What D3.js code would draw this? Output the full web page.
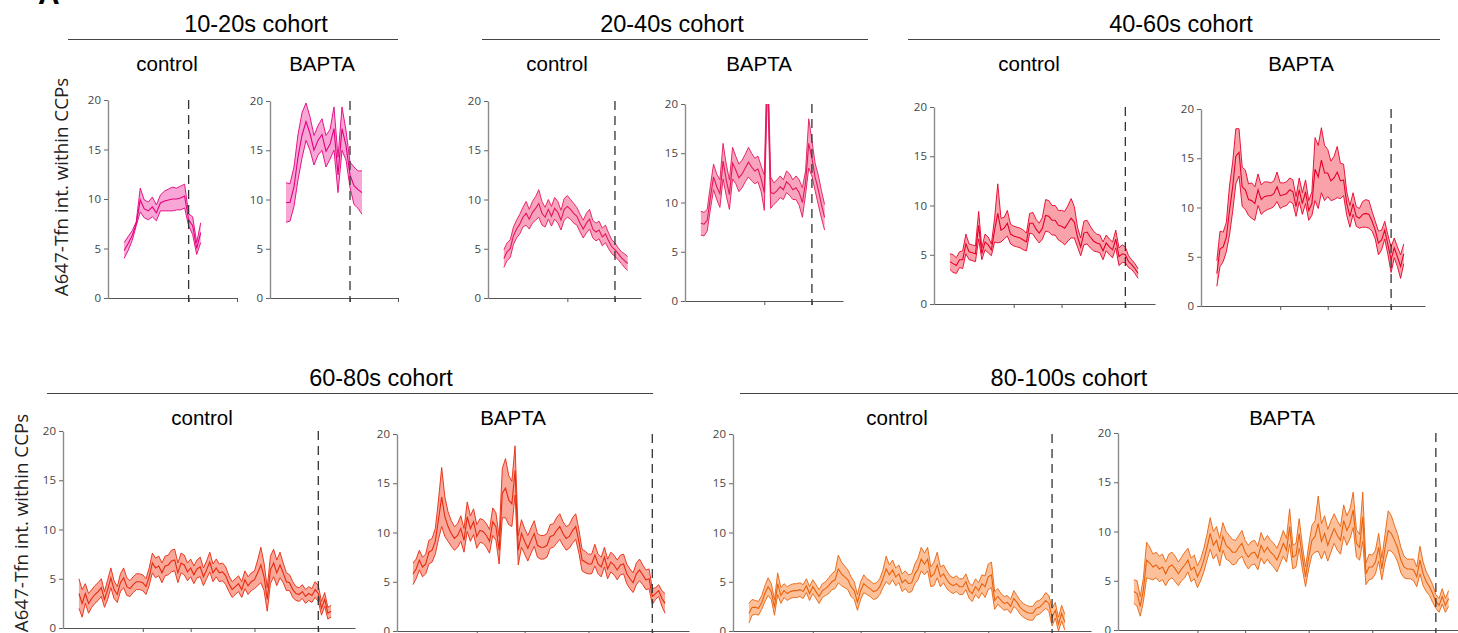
<!DOCTYPE html>
<html>
<head>
<meta charset="utf-8">
<script src="https://cdn.jsdelivr.net/npm/d3@7"></script>
<style>
  body { margin: 0; background: #fff; }
  svg { display: block; }
</style>
</head>
<body>
<div id="chart"></div>
<script>
// Cohort categories and conditions
const cohorts = ["10-20s cohort", "20-40s cohort", "40-60s cohort", "60-80s cohort", "80-100s cohort"];
const conditions = ["control", "BAPTA"];
const cohortEnds = [20, 40, 60, 80, 100];      // dashed line, s
const traceStarts = [4, 5, 5, 5, 5];           // first time point, s (1 s per frame)
const yTicks = [0, 5, 10, 15, 20];
const xTicks = [[20, 32], [25, 40], [25, 40, 60], [25, 40, 60, 80], [25, 40, 60, 80]];
const yLabel = "A647-Tfn int. within CCPs";

// mean and sem of A647-Tfn intensity
const ctrl10Mean = [4.8, 5.5, 6.3, 7.5, 9.9, 9.0, 8.8, 9.2, 8.6, 9.6, 9.8, 9.9, 10.0, 10.0, 10.1, 10.3, 7.9, 7.3, 5.0, 6.6];
const ctrl10Sem  = [0.8, 0.7, 0.5, 0.2, 1.2, 0.9, 0.9, 1.0, 0.8, 0.8, 1.0, 1.1, 1.2, 1.1, 1.2, 1.2, 0.6, 0.9, 0.6, 1.0];
const bapta10Mean = [9.7, 9.7, 11.3, 14.3, 16.5, 17.9, 16.7, 15.0, 16.0, 16.6, 14.9, 15.6, 17.2, 12.5, 17.2, 15.5, 12.5, 11.4, 11.0, 10.7];
const bapta10Sem  = [2.0, 1.9, 2.0, 2.3, 2.3, 1.9, 1.7, 1.5, 1.5, 1.6, 1.6, 1.5, 2.2, 1.8, 2.2, 1.5, 1.3, 1.9, 1.9, 2.2];

const ctrl20Mean = [4.0, 4.7, 5.0, 6.3, 7.0, 7.5, 8.2, 8.6, 8.0, 8.7, 9.1, 9.6, 8.6, 8.2, 9.0, 8.3, 9.1, 8.7, 7.9, 9.0,
  9.3, 9.0, 8.6, 8.3, 7.6, 7.0, 7.6, 8.0, 7.0, 6.7, 6.9, 6.2, 6.5, 5.8, 5.2, 4.9, 4.5, 4.1, 3.8, 3.5];
const ctrl20Sem = [0.9, 0.9, 0.9, 0.9, 0.9, 1.0, 1.0, 1.2, 1.0, 1.1, 1.2, 1.4, 1.2, 1.0, 1.0, 1.0, 1.1, 1.1, 1.0, 1.1,
  1.1, 1.0, 1.0, 0.9, 0.9, 0.9, 1.0, 1.0, 0.9, 0.9, 0.9, 0.9, 0.9, 0.8, 0.7, 0.7, 0.6, 0.6, 0.7, 0.7];
const bapta20Mean = [7.9, 7.8, 8.2, 10.5, 12.6, 11.6, 10.9, 14.2, 12.3, 10.8, 14.0, 13.3, 12.5, 12.9, 13.5, 14.1, 13.6, 13.2, 13.4, 12.4,
  11.0, 24.0, 11.0, 10.9, 11.2, 11.6, 11.3, 12.1, 11.8, 11.3, 11.5, 11.0, 10.0, 12.0, 16.0, 14.5, 12.6, 11.3, 9.8, 8.5];
const bapta20Sem = [1.2, 1.2, 1.1, 1.2, 1.3, 1.3, 1.4, 1.8, 1.6, 1.5, 1.6, 1.4, 1.4, 1.4, 1.4, 1.5, 1.4, 1.3, 1.3, 1.3,
  1.8, 2.0, 1.6, 1.1, 1.1, 1.1, 1.0, 1.1, 1.1, 1.0, 1.2, 1.3, 1.5, 1.2, 2.5, 1.8, 1.4, 1.5, 1.4, 1.3];

const ctrl40Mean = [4.3, 4.1, 3.9, 4.5, 4.5, 6.1, 5.3, 5.2, 5.1, 8.0, 5.1, 6.3, 6.0, 5.5, 7.5, 9.2, 7.5, 7.7, 8.2, 7.1,
  6.9, 6.8, 6.7, 6.5, 6.3, 8.2, 8.2, 7.6, 7.2, 7.7, 9.0, 8.9, 8.5, 8.5, 8.0, 7.9, 7.7, 8.2, 8.7, 8.3,
  6.8, 5.8, 7.2, 7.3, 6.8, 6.4, 6.2, 6.1, 5.4, 6.2, 5.8, 5.5, 6.6, 4.8, 5.1, 5.0, 4.3, 4.0, 3.6, 3.1];
const ctrl40Sem = [0.8, 0.9, 0.8, 0.8, 0.9, 1.0, 0.8, 0.8, 0.8, 1.4, 0.6, 0.8, 0.8, 0.6, 1.2, 3.0, 1.2, 1.1, 1.3, 1.0,
  1.0, 1.0, 1.0, 1.0, 0.9, 1.0, 1.1, 1.0, 1.0, 1.1, 1.6, 1.6, 1.5, 1.5, 1.5, 1.6, 1.7, 1.8, 2.0, 1.6,
  1.0, 0.9, 1.2, 1.2, 1.1, 1.0, 0.9, 0.9, 0.9, 0.8, 0.8, 0.8, 0.9, 0.9, 0.9, 0.8, 0.6, 0.5, 0.5, 0.5];
const bapta40Mean = [3.3, 5.8, 6.0, 7.0, 9.7, 12.1, 15.2, 15.6, 12.1, 11.8, 10.8, 10.7, 10.4, 11.8, 10.8, 11.1, 11.2, 11.2, 11.4, 12.1,
  11.2, 11.3, 11.4, 11.8, 11.6, 10.1, 11.8, 10.4, 11.6, 9.7, 10.4, 13.9, 13.1, 14.8, 13.5, 13.5, 12.7, 13.0, 13.6, 12.7,
  12.8, 10.4, 9.1, 10.4, 9.1, 8.9, 9.3, 9.4, 9.3, 8.6, 7.7, 6.4, 6.7, 7.7, 6.2, 4.7, 5.9, 5.0, 4.0, 5.3];
const bapta40Sem = [1.3, 1.8, 1.5, 1.5, 2.5, 2.5, 2.8, 2.4, 2.0, 2.0, 1.6, 1.8, 1.7, 1.6, 1.5, 1.5, 1.4, 1.3, 1.3, 1.5,
  1.3, 1.2, 1.2, 1.2, 1.2, 1.0, 1.2, 1.1, 1.2, 1.0, 1.2, 3.2, 3.2, 3.3, 2.8, 2.4, 2.0, 2.2, 2.6, 1.8,
  1.6, 1.2, 1.1, 1.1, 1.0, 1.0, 1.3, 1.4, 1.4, 1.0, 0.9, 1.2, 1.0, 0.9, 1.0, 1.3, 1.0, 1.0, 1.2, 1.0];

const ctrl60Mean = [3.5, 2.5, 3.5, 2.5, 3.0, 3.4, 3.7, 4.1, 2.9, 3.9, 5.1, 3.9, 3.4, 4.6, 5.1, 4.2, 4.0, 4.4, 4.7, 4.7,
  4.6, 4.2, 5.2, 6.6, 6.1, 6.3, 5.6, 6.3, 6.4, 6.8, 6.9, 5.6, 6.6, 6.4, 5.7, 6.1, 5.4, 6.0, 6.2, 5.2,
  5.9, 6.7, 5.6, 6.1, 5.6, 5.7, 5.3, 4.5, 3.9, 4.2, 4.5, 3.9, 4.9, 4.3, 4.7, 4.9, 5.6, 6.4, 5.2, 2.9,
  5.9, 6.6, 5.6, 6.4, 5.6, 4.7, 4.6, 3.9, 3.5, 3.4, 3.7, 3.2, 3.5, 3.3, 3.9, 3.5, 2.0, 2.9, 1.5, 1.7];
const ctrl60Sem = [1.5, 1.4, 1.0, 1.0, 0.9, 0.9, 0.9, 0.9, 0.8, 1.0, 1.0, 0.9, 0.8, 0.9, 1.0, 0.9, 0.8, 0.8, 0.8, 0.8,
  0.8, 0.8, 0.9, 1.0, 1.0, 1.0, 1.0, 1.0, 1.0, 1.1, 1.1, 1.0, 1.0, 1.0, 0.9, 0.9, 0.9, 0.9, 1.0, 0.9,
  0.9, 1.0, 0.9, 0.9, 0.9, 0.9, 0.9, 0.8, 0.8, 0.8, 0.8, 0.8, 0.9, 0.9, 0.9, 0.9, 1.3, 1.8, 1.4, 1.2,
  1.4, 1.4, 1.3, 1.3, 1.0, 0.9, 0.8, 0.8, 0.7, 0.7, 0.7, 0.7, 0.7, 0.7, 0.8, 0.8, 0.7, 0.7, 0.6, 0.6];
const bapta60Mean = [5.8, 6.3, 7.2, 6.5, 6.8, 8.0, 8.2, 9.1, 11.3, 13.6, 11.6, 10.6, 9.9, 9.4, 9.7, 10.4, 9.2, 11.6, 10.4, 11.1,
  9.6, 10.2, 10.1, 9.7, 9.1, 11.1, 10.6, 8.2, 14.0, 14.5, 13.3, 12.9, 16.3, 8.2, 9.9, 9.1, 8.4, 9.2, 9.9, 8.7,
  8.5, 8.5, 8.7, 9.6, 9.7, 10.2, 10.6, 9.9, 9.4, 9.6, 10.2, 10.6, 9.1, 7.2, 7.0, 6.8, 6.8, 7.7, 6.8, 6.5,
  7.5, 6.3, 7.0, 6.7, 6.2, 6.7, 6.8, 5.8, 5.3, 4.9, 5.8, 6.2, 5.7, 5.2, 5.3, 3.5, 3.8, 4.1, 3.3, 2.8];
const bapta60Sem = [1.1, 1.0, 1.0, 1.0, 1.0, 1.2, 1.2, 1.3, 2.0, 3.0, 2.0, 1.5, 1.3, 1.2, 1.2, 1.3, 1.2, 1.5, 1.3, 1.3,
  1.2, 1.2, 1.2, 1.2, 1.2, 1.4, 1.4, 1.4, 2.5, 3.0, 2.5, 2.3, 2.5, 1.5, 1.4, 1.3, 1.3, 1.3, 1.3, 1.2,
  1.2, 1.2, 1.2, 1.2, 1.2, 1.3, 1.3, 1.2, 1.2, 1.2, 1.3, 1.3, 1.2, 1.1, 1.1, 1.0, 1.0, 1.1, 1.0, 1.0,
  1.0, 1.0, 1.0, 1.0, 1.0, 1.0, 1.0, 1.0, 1.0, 1.0, 1.1, 1.1, 1.0, 1.0, 1.0, 0.8, 0.6, 0.6, 0.8, 1.0];

const ctrl80Mean = [1.8, 2.4, 2.4, 2.3, 2.9, 3.8, 4.5, 4.0, 2.4, 4.8, 3.6, 4.1, 3.8, 4.0, 4.1, 4.1, 4.2, 4.0, 4.6, 3.8,
  4.5, 4.0, 3.5, 4.1, 4.3, 4.6, 5.0, 5.2, 6.3, 5.8, 5.5, 5.2, 4.5, 4.1, 2.9, 4.1, 4.8, 4.5, 4.3, 4.0,
  4.1, 4.5, 5.3, 6.3, 5.7, 6.2, 5.5, 5.8, 4.9, 5.2, 4.8, 4.9, 5.8, 6.3, 7.3, 6.8, 7.3, 5.5, 5.8, 6.7,
  5.5, 5.8, 5.2, 4.8, 4.6, 4.8, 4.5, 4.5, 5.0, 4.1, 3.8, 4.5, 4.1, 4.8, 4.5, 5.5, 5.7, 3.1, 3.5, 3.1,
  2.8, 2.9, 2.5, 3.3, 2.9, 2.4, 2.1, 1.9, 1.8, 1.8, 2.3, 2.4, 2.7, 3.1, 2.8, 1.4, 2.1, 0.7, 1.8, 0.9];
const ctrl80Sem = [1.0, 0.8, 0.7, 0.7, 0.7, 0.8, 0.9, 0.8, 0.8, 1.1, 0.8, 0.7, 0.7, 0.7, 0.7, 0.7, 0.7, 0.7, 0.7, 0.7,
  0.7, 0.7, 0.7, 0.7, 0.7, 0.8, 0.8, 0.9, 1.4, 1.2, 1.1, 1.0, 1.0, 0.9, 0.8, 0.9, 0.9, 0.8, 0.8, 0.8,
  0.8, 0.8, 0.9, 1.3, 1.0, 1.0, 0.9, 0.9, 0.9, 0.9, 0.9, 0.9, 1.0, 1.1, 1.2, 1.1, 1.2, 1.0, 1.2, 1.3,
  1.0, 0.9, 0.9, 0.8, 0.8, 0.8, 0.8, 0.8, 0.8, 0.8, 0.8, 0.8, 0.8, 0.9, 1.1, 1.3, 1.3, 0.9, 0.8, 0.7,
  0.7, 0.7, 0.7, 0.8, 0.7, 0.7, 0.7, 0.7, 0.7, 0.7, 0.7, 0.7, 0.7, 0.8, 0.8, 0.9, 0.8, 0.7, 0.8, 0.8];
const bapta80Mean = [3.9, 3.7, 2.4, 4.1, 7.1, 6.8, 6.4, 6.6, 6.2, 6.4, 5.7, 6.4, 6.6, 6.2, 5.7, 6.2, 6.6, 7.1, 6.1, 6.4,
  5.4, 6.1, 7.1, 8.4, 9.8, 8.6, 9.1, 7.9, 9.5, 8.6, 8.3, 7.9, 7.9, 8.4, 8.8, 7.9, 7.4, 7.8, 7.9, 7.3,
  8.6, 7.9, 8.4, 7.9, 7.6, 7.1, 7.9, 8.8, 8.1, 10.5, 7.4, 7.6, 9.8, 7.4, 5.4, 7.4, 9.1, 9.5, 10.8, 9.0,
  9.8, 8.6, 9.5, 10.3, 9.6, 9.1, 11.1, 10.1, 10.8, 12.2, 8.8, 8.4, 11.5, 5.7, 6.4, 6.4, 6.9, 8.4, 6.2, 8.3,
  10.1, 9.8, 9.1, 8.3, 7.1, 6.4, 6.2, 6.2, 6.1, 5.4, 7.1, 5.7, 4.9, 4.4, 3.7, 2.9, 2.5, 3.4, 2.5, 3.2];
const bapta80Sem = [1.2, 1.3, 1.0, 1.2, 1.8, 1.6, 1.3, 1.3, 1.3, 1.3, 1.2, 1.3, 1.3, 1.3, 1.2, 1.2, 1.3, 1.2, 1.2, 1.2,
  1.1, 1.1, 1.2, 1.3, 1.6, 1.4, 1.4, 1.4, 1.4, 1.4, 1.3, 1.3, 1.2, 1.2, 1.3, 1.2, 1.2, 1.2, 1.2, 1.2,
  1.3, 1.2, 1.2, 1.2, 1.2, 1.2, 1.2, 1.3, 1.2, 1.8, 1.2, 1.2, 1.5, 1.2, 1.0, 1.2, 1.5, 1.6, 2.8, 1.8,
  1.8, 1.6, 1.6, 1.5, 1.5, 1.4, 1.6, 1.5, 1.5, 1.8, 1.4, 1.3, 2.5, 1.1, 1.3, 1.2, 1.2, 1.4, 1.1, 1.4,
  2.0, 1.8, 1.5, 1.4, 1.3, 1.1, 1.0, 1.0, 1.1, 1.0, 1.4, 1.2, 1.0, 0.9, 0.9, 0.7, 0.7, 0.8, 0.7, 0.8];

const seriesMean = [[ctrl10Mean, bapta10Mean], [ctrl20Mean, bapta20Mean], [ctrl40Mean, bapta40Mean],
                    [ctrl60Mean, bapta60Mean], [ctrl80Mean, bapta80Mean]];
const seriesSem = [[ctrl10Sem, bapta10Sem], [ctrl20Sem, bapta20Sem], [ctrl40Sem, bapta40Sem],
                   [ctrl60Sem, bapta60Sem], [ctrl80Sem, bapta80Sem]];

// colours per cohort: line and band fill
const lineColors = ["#e4007c", "#e3185a", "#e5002a", "#e62a10", "#e8620c"];
const fillColors = ["#f8a6d6", "#f8a4bf", "#faa2aa", "#f9a899", "#fcc19b"];

// page layout (pixels)
const width = 1458, height = 633;
const headers = [
  { tx: 256, ty: 32, lx0: 68, lx1: 398, ly: 39.5, sub: [167, 322], sy: 71 },
  { tx: 672, ty: 32, lx0: 482, lx1: 868, ly: 39.5, sub: [557, 759], sy: 71 },
  { tx: 1181, ty: 32, lx0: 908, lx1: 1440, ly: 39.5, sub: [1029, 1301], sy: 71 },
  { tx: 381, ty: 386, lx0: 47, lx1: 653, ly: 393.5, sub: [202, 513], sy: 425 },
  { tx: 1069, ty: 386, lx0: 740, lx1: 1458, ly: 393.5, sub: [897, 1282], sy: 425 }
];
const boxes = [
  [{ l: 108, r: 237, t: 100, b: 298, xmax: 32 }, { l: 270, r: 398, t: 101, b: 298, xmax: 32 }],
  [{ l: 488, r: 641, t: 101, b: 298, xmax: 48.2 }, { l: 685, r: 843, t: 104, b: 301, xmax: 49.8 }],
  [{ l: 934, r: 1155, t: 107, b: 304, xmax: 69.3 }, { l: 1201, r: 1425, t: 109, b: 306, xmax: 70.7 }],
  [{ l: 63, r: 355, t: 431, b: 628, xmax: 91.5 }, { l: 397, r: 689, t: 434, b: 631, xmax: 91.5 }],
  [{ l: 733, r: 1091, t: 434, b: 631, xmax: 112.2 }, { l: 1118, r: 1474, t: 433, b: 630, xmax: 112 }]
];

const svg = d3.select("#chart").append("svg")
  .attr("width", width)
  .attr("height", height)
  .style("font-family", "'Liberation Sans', Arial, sans-serif");

// partial panel letter at the top edge
svg.append("text")
  .attr("x", 38).attr("y", 4)
  .attr("font-size", 30).attr("font-weight", "bold")
  .text("A");

// y axis titles, one per row
[[68, 187], [28, 523]].forEach(([x, y]) => {
  svg.append("text")
    .attr("transform", `translate(${x},${y}) rotate(-90)`)
    .attr("text-anchor", "middle")
    .attr("font-family", "'Open Sans', 'Noto Sans', sans-serif")
    .attr("font-size", 18.8)
    .attr("fill", "#222")
    .text(yLabel);
});

cohorts.forEach((name, ci) => {
  const h = headers[ci];
  svg.append("text")
    .attr("x", h.tx).attr("y", h.ty)
    .attr("text-anchor", "middle")
    .attr("font-size", 23.5)
    .text(name);
  svg.append("line")
    .attr("x1", h.lx0).attr("x2", h.lx1)
    .attr("y1", h.ly).attr("y2", h.ly)
    .attr("stroke", "#444").attr("stroke-width", 1.2);

  conditions.forEach((cond, k) => {
    svg.append("text")
      .attr("x", h.sub[k]).attr("y", h.sy)
      .attr("text-anchor", "middle")
      .attr("font-size", 20.5)
      .text(cond);

    const box = boxes[ci][k];
    const x = d3.scaleLinear().domain([0, box.xmax]).range([box.l, box.r]);
    const y = d3.scaleLinear().domain([0, 20]).range([box.b, box.t]);

    const pts = seriesMean[ci][k].map((m, i) => ({ t: traceStarts[ci] + i, m: m, s: seriesSem[ci][k][i] }));

    const g = svg.append("g");
    const clipId = `clip-${ci}-${k}`;
    g.append("clipPath").attr("id", clipId)
      .append("rect")
      .attr("x", box.l).attr("y", box.t)
      .attr("width", box.r - box.l).attr("height", box.b - box.t);

    const plot = g.append("g").attr("clip-path", `url(#${clipId})`);
    plot.append("path")
      .datum(pts)
      .attr("fill", fillColors[ci])
      .attr("d", d3.area().x(d => x(d.t)).y0(d => y(d.m - d.s)).y1(d => y(d.m + d.s)));
    [d => d.m + d.s, d => d.m - d.s].forEach(acc => {
      plot.append("path")
        .datum(pts)
        .attr("fill", "none")
        .attr("stroke", lineColors[ci])
        .attr("stroke-width", 0.9)
        .attr("d", d3.line().x(d => x(d.t)).y(d => y(acc(d))));
    });
    plot.append("path")
      .datum(pts)
      .attr("fill", "none")
      .attr("stroke", lineColors[ci])
      .attr("stroke-width", 1.1)
      .attr("d", d3.line().x(d => x(d.t)).y(d => y(d.m)));

    // y axis
    const ya = g.append("g")
      .attr("transform", `translate(${box.l},0)`)
      .call(d3.axisLeft(y).tickValues(yTicks).tickSize(4).tickSizeOuter(0).tickPadding(3));
    ya.select(".domain").attr("stroke", "#8a8a8a").attr("stroke-width", 1.4);
    ya.selectAll(".tick line").attr("stroke", "#666");
    ya.selectAll(".tick text")
      .attr("fill", "#444")
      .attr("font-size", 11.5)
      .attr("font-family", "'Open Sans', 'Noto Sans', sans-serif");

    // x axis, unlabelled ticks
    const xa = g.append("g")
      .attr("transform", `translate(0,${box.b})`)
      .call(d3.axisBottom(x).tickValues(xTicks[ci]).tickSize(4).tickSizeOuter(0).tickFormat(""));
    xa.select(".domain").attr("stroke", "#555").attr("stroke-width", 1);
    xa.selectAll(".tick line").attr("stroke", "#555");

    // cohort end marker
    g.append("line")
      .attr("x1", x(cohortEnds[ci])).attr("x2", x(cohortEnds[ci]))
      .attr("y1", y(20)).attr("y2", box.b + 4)
      .attr("stroke", "#333")
      .attr("stroke-width", 1.3)
      .attr("stroke-dasharray", "9,6");
  });
});
</script>
</body>
</html>
